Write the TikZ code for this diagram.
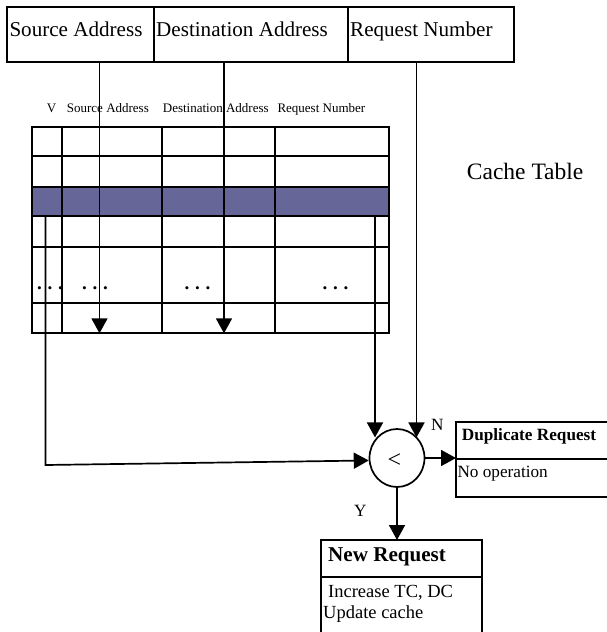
\documentclass[tikz,border=0pt]{standalone}
\usepackage{fontspec}
\setmainfont{Liberation Serif}
\usetikzlibrary{arrows.meta,shapes.geometric,calc}
\definecolor{rowblue}{RGB}{102,102,153}

\tikzset{
  boxline/.style={draw=black, line width=2pt, rectangle, inner sep=0pt, outer sep=0pt},
  tline/.style={line width=1.7pt},
  conn/.style={line width=1.7pt},
  arr/.style={conn, -{Triangle[length=15pt,width=16pt]}},
  bigtxt/.style={anchor=base west, inner sep=0pt, font=\fontsize{21.1}{24}\selectfont},
  hdrtxt/.style={anchor=base west, inner sep=0pt, font=\fontsize{13}{15}\selectfont},
  midtxt/.style={anchor=base west, inner sep=0pt, font=\fontsize{17.2}{20}\selectfont},
  bodytxt/.style={anchor=base west, inner sep=0pt, font=\fontsize{18.5}{21}\selectfont},
  dotrow/.style={anchor=base, inner sep=0pt, font=\bfseries\fontsize{19}{21}\selectfont},
}

\begin{document}
\begin{tikzpicture}[x=1pt, y=-1pt]
\useasboundingbox (0,0) rectangle (607,632);

% request fields
\node[boxline, minimum width=147pt, minimum height=55.6pt] (srcbox) at (80.5,34.5) {};
\node[boxline, minimum width=194pt, minimum height=55.6pt] (dstbox) at (251,34.5) {};
\node[boxline, minimum width=166.3pt, minimum height=55.6pt] (reqbox) at (431.15,34.5) {};
\node[bigtxt] (srctxt) at (9.3,36.7) {Source Address};
\node[bigtxt] (dsttxt) at (156,36.7) {Destination Address};
\node[bigtxt] (reqtxt) at (350,36.7) {Request Number};

% cache table header
\node[hdrtxt] (hv) at (46.7,112.5) {V};
\node[hdrtxt] (hsrc) at (66.7,112.5) {Source Address};
\node[hdrtxt] (hdst) at (162.7,112.5) {Destination Address};
\node[hdrtxt] (hreq) at (277.3,112.5) {Request Number};

\node[anchor=base west, inner sep=0pt, font=\fontsize{23.5}{26}\selectfont] (cachetitle) at (466.7,179) {Cache Table};

% cache table grid
\fill[rowblue] (31.7,186.7) rectangle (389,215.7);
\draw[tline] (31.7,127) rectangle (389,333.3);
\foreach \yy in {155.7,186.7,215.7,246.7,303.3}
  \draw[tline] (31.7,\yy) -- (389,\yy);
\foreach \xx in {62,162,274.7}
  \draw[tline] (\xx,127) -- (\xx,333.3);

% continuation dots
\node[dotrow] (dots1) at (50,289.5) {.\hspace{5.7pt}.\hspace{5.7pt}.};
\node[dotrow] (dots2) at (95,289) {.\hspace{5.7pt}.\hspace{5.7pt}.};
\node[dotrow] (dots3) at (197.5,289.5) {.\hspace{5.7pt}.\hspace{5.7pt}.};
\node[dotrow] (dots4) at (335.5,289) {.\hspace{5.7pt}.\hspace{5.7pt}.};

% comparator
\node[draw, ellipse, line width=1.7pt, minimum width=55pt, minimum height=58pt, inner sep=0pt] (cmp) at (397,458) {};
\node[inner sep=0pt, font=\fontsize{24}{26}\selectfont] (cmptxt) at (394.5,461) {<};

% outcome boxes
\node[boxline, minimum width=184pt, minimum height=37.3pt] (dupHead) at (548,440.35) {};
\node[boxline, minimum width=184pt, minimum height=37.7pt] (dupBody) at (548,477.85) {};
\node[midtxt, font=\bfseries\fontsize{17.2}{20}\selectfont] (duptxt) at (461.7,440) {Duplicate Request};
\node[midtxt] (noop) at (457.3,477.3) {No operation};

\node[boxline, minimum width=161pt, minimum height=37.3pt] (newHead) at (401.2,558.65) {};
\node[boxline, minimum width=161pt, minimum height=64pt] (newBody) at (401.2,609.3) {};
\node[anchor=base west, inner sep=0pt, font=\bfseries\fontsize{21.1}{24}\selectfont] (newtxt) at (328,561.5) {New Request};
\node[bodytxt] (inc) at (328,597) {Increase TC, DC};
\node[bodytxt] (upd) at (323,618.3) {Update cache};

% branch labels
\node[midtxt] (nlbl) at (431,430) {N};
\node[midtxt] (ylbl) at (354,516) {Y};

% field lookups into the table
\coordinate (srcEnd) at (99.5,333.3);
\coordinate (dstEnd) at (224,333.3);
\draw[arr] (srcbox.south -| srcEnd) -- (srcEnd);
\draw[arr] (dstbox.south -| dstEnd) -- (dstEnd);

% inputs of the comparator
\coordinate (reqX) at (416.5,62);
\draw[arr] (reqbox.south -| reqX) -- (reqX |- cmp.45);
\coordinate (rnStart) at (375,215.7);
\draw[arr] (rnStart) -- (rnStart |- cmp.135);
\coordinate (vStart) at (45.5,215.7);
\coordinate (vCorner) at (45.5,465);
\draw[arr] (vStart) -- (vCorner) -- (cmp.185);

% outputs of the comparator
\draw[arr] (cmp.east) -- (cmp.east -| dupHead.west);
\draw[arr] (cmp.south) -- (cmp.south |- newHead.north);
\end{tikzpicture}
\end{document}
